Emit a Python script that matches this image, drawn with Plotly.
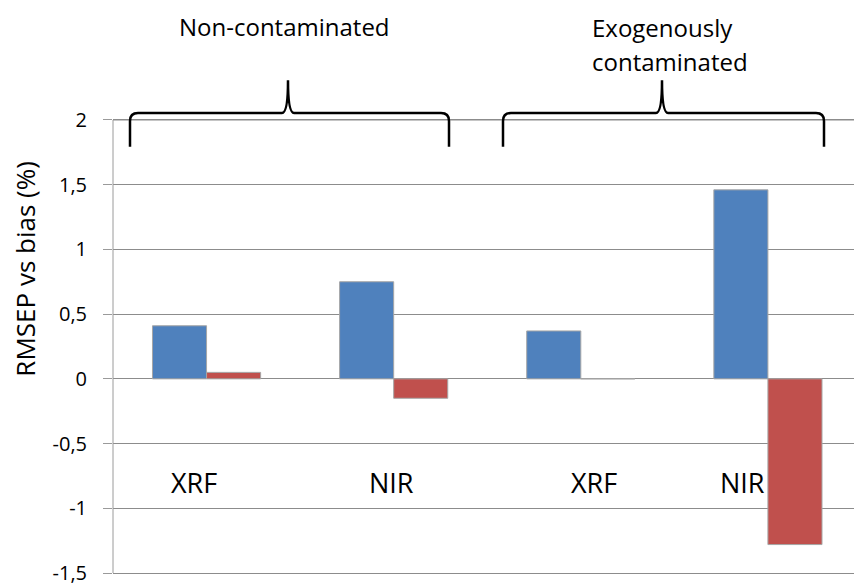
import plotly.graph_objects as go

categories = ["XRF (non-contaminated)", "NIR (non-contaminated)", "XRF (exogenous)", "NIR (exogenous)"]
cat_labels = ["XRF", "NIR", "XRF", "NIR"]
rmsep = [0.41, 0.75, 0.37, 1.46]
bias = [0.05, -0.15, 0.0, -1.28]
tick_vals = [-1.5, -1, -0.5, 0, 0.5, 1, 1.5, 2]
tick_text = ["-1,5", "-1", "-0,5", "0", "0,5", "1", "1,5", "2"]
group_title_1 = "Non-contaminated"
group_title_2 = ["Exogenously", "contaminated"]
y_title = "RMSEP vs bias (%)"

W, H = 854, 586
L, R, T, B = 113, 0, 110, 7
pw, ph = W - L - R, H - T - B
Y_LO = -1.515
Y_HI = 2.0 + (120 - T) / 130.6
X_LO, X_HI = -0.5, 3.46

def px(x):
    return (x - L) / pw

def py(y):
    return (H - B - y) / ph

xpos = list(range(len(categories)))
FONT = "Open Sans, DejaVu Sans, sans-serif"
GRID = "#8C8C8C"

fig = go.Figure()
# top reference gridline at the highest tick, drawn as a line trace
fig.add_trace(go.Scatter(x=[X_LO, X_HI], y=[tick_vals[-1], tick_vals[-1]], mode="lines",
                         line=dict(color=GRID, width=1.3), hoverinfo="skip", showlegend=False,
                         cliponaxis=False))
fig.add_trace(go.Bar(x=xpos, y=rmsep, name="RMSEP", marker=dict(color="#4F81BD", line=dict(color="#A6A6A6", width=1))))
fig.add_trace(go.Bar(x=xpos, y=bias, name="bias", marker=dict(color="#C0504D", line=dict(color="#A6A6A6", width=1))))

def brace(x0, x1, xm, ytop=80, yh=113, ybot=147):
    pts = [
        f"M {px(x0)},{py(ybot)}",
        f"L {px(x0)},{py(yh+8)}",
        f"Q {px(x0)},{py(yh)} {px(x0+8)},{py(yh)}",
        f"L {px(xm-6)},{py(yh)}",
        f"Q {px(xm)},{py(yh)} {px(xm)},{py(ytop)}",
        f"Q {px(xm)},{py(yh)} {px(xm+6)},{py(yh)}",
        f"L {px(x1-8)},{py(yh)}",
        f"Q {px(x1)},{py(yh)} {px(x1)},{py(yh+8)}",
        f"L {px(x1)},{py(ybot)}",
    ]
    return " ".join(pts)

shapes = [
    dict(type="path", xref="paper", yref="paper", path=brace(130, 449, 288), line=dict(color="black", width=2.5),
         fillcolor="rgba(0,0,0,0)"),
    dict(type="path", xref="paper", yref="paper", path=brace(503, 824, 662), line=dict(color="black", width=2.5),
         fillcolor="rgba(0,0,0,0)"),
]

annotations = [
    dict(text=group_title_1, xref="paper", yref="paper", x=px(284), y=py(26), showarrow=False,
         font=dict(size=24, color="black"), xanchor="center", yanchor="middle"),
    dict(text=group_title_2[0], xref="paper", yref="paper", x=px(590), y=py(27), showarrow=False,
         font=dict(size=24, color="black"), xanchor="left", yanchor="middle"),
    dict(text=group_title_2[1], xref="paper", yref="paper", x=px(590), y=py(61), showarrow=False,
         font=dict(size=24, color="black"), xanchor="left", yanchor="middle"),
    dict(text=y_title, xref="paper", yref="paper", x=px(25), y=py(270), showarrow=False, textangle=-90,
         font=dict(size=26, color="black"), xanchor="center", yanchor="middle"),
]
label_x = [194, 391, 594, 742]
for lab, lx in zip(cat_labels, label_x):
    annotations.append(dict(text=lab, xref="paper", yref="y", x=px(lx), y=-0.80, showarrow=False,
                            font=dict(size=27, color="black"), xanchor="center", yanchor="middle"))

fig.update_layout(
    width=W, height=H,
    margin=dict(l=L, r=R, t=T, b=B),
    paper_bgcolor="white", plot_bgcolor="white",
    font=dict(family=FONT, color="black"),
    barmode="group", bargap=0.422, bargroupgap=0,
    showlegend=False,
    shapes=shapes, annotations=annotations,
    xaxis=dict(range=[X_LO, X_HI], showticklabels=False, showgrid=False, zeroline=False,
               showline=False, ticks=""),
    yaxis=dict(range=[Y_LO, Y_HI], tickvals=tick_vals, ticktext=tick_text,
               showgrid=True, gridcolor=GRID, gridwidth=1,
               zeroline=True, zerolinecolor=GRID, zerolinewidth=1,
               showline=False,
               ticks="outside", ticklen=9, tickcolor="#9A9A9A",
               ticklabelstandoff=12, ticklabeloverflow="allow",
               tickfont=dict(size=20, color="black")),
)
fig.add_shape(type="line", xref="paper", yref="y", x0=0, x1=0, y0=tick_vals[0], y1=tick_vals[-1],
              line=dict(color="#9A9A9A", width=1))

fig.write_html("out.html")
